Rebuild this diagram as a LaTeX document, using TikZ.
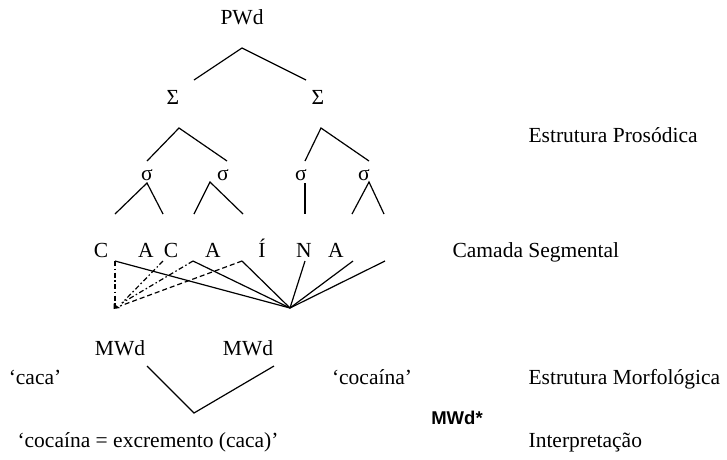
\documentclass[tikz,border=0pt]{standalone}
\usepackage{fontspec}
\setmainfont{Liberation Serif}
\newfontfamily\arialfont{Liberation Sans}
\begin{document}
\begin{tikzpicture}[x=1pt,y=-1pt,line width=1.2pt,
  lab/.style={inner sep=0pt,anchor=base,font=\fontsize{21.5}{24}\selectfont},
  side/.style={lab,anchor=base west},
  dashdot/.style={line width=1.2pt,dash pattern=on 5pt off 2.5pt on 1.5pt off 2.5pt},
  dashline/.style={line width=1.2pt,dash pattern=on 5pt off 3pt}]
\useasboundingbox (0,0) rectangle (727,459);
% prosodic tree
\node[lab] (pwd) at (242,24) {PWd};
\node[lab] (S1) at (173,104) {Σ};
\node[lab] (S2) at (318,104) {Σ};
\node[lab] (s1) at (147,180) {σ};
\node[lab] (s2) at (223,180) {σ};
\node[lab] (s3) at (301,180) {σ};
\node[lab] (s4) at (364,180) {σ};
\node[side] (ep) at (528,142) {Estrutura Prosódica};
% segments
\node[lab] (c1) at (101,257) {C};
\node[lab] (a1) at (146,257) {A};
\node[lab] (c2) at (171,257) {C};
\node[lab] (a2) at (213,257) {A};
\node[lab] (i1) at (262,257) {Í};
\node[lab] (n1) at (304,257) {N};
\node[lab] (a3) at (336,257) {A};
\node[side] (cs) at (452,257) {Camada Segmental};
% morphology
\node[lab] (m1) at (120,355) {MWd};
\node[lab] (m2) at (248,355) {MWd};
\node[lab] (caca) at (35,384) {‘caca’};
\node[lab] (coca) at (372,384) {‘cocaína’};
\node[side] (em) at (528,384) {Estrutura Morfológica};
\node[inner sep=0pt,anchor=base,font=\arialfont\bfseries\fontsize{18.5}{20}\selectfont] (mst) at (457,424) {MWd*};
\node[lab] (interp) at (148,447) {‘cocaína = excremento (caca)’};
\node[side] (it) at (528,447) {Interpretação};
% coordinates
\coordinate (pA) at (242,48); \coordinate (pL) at (194,80); \coordinate (pR) at (306,80);
\coordinate (S1A) at (179,128); \coordinate (S1L) at (147,161); \coordinate (S1R) at (227,161);
\coordinate (S2A) at (321,128); \coordinate (S2L) at (305,161); \coordinate (S2R) at (369,161);
\coordinate (s1A) at (147,183); \coordinate (s1L) at (115,214); \coordinate (s1R) at (163,214);
\coordinate (s2A) at (210,182); \coordinate (s2L) at (194,214); \coordinate (s2R) at (243,214);
\coordinate (s3A) at (305,183); \coordinate (s3B) at (305,214);
\coordinate (s4A) at (369,182); \coordinate (s4L) at (352,214); \coordinate (s4R) at (384,214);
\coordinate (P) at (290,308);
\coordinate (t1) at (115,261); \coordinate (t2) at (163,261); \coordinate (t3) at (193,261);
\coordinate (t4) at (242,261); \coordinate (t5) at (305,261); \coordinate (t6) at (353,261);
\coordinate (t7) at (385,261);
\coordinate (Q) at (115,307);
\coordinate (Q1) at (122,303); \coordinate (Q2) at (120,306);
\coordinate (vL) at (147,366); \coordinate (vB) at (194,413); \coordinate (vR) at (274,366);
% tree lines
\draw (pL) -- (pA) -- (pR);
\draw (S1L) -- (S1A) -- (S1R);
\draw (S2L) -- (S2A) -- (S2R);
\draw (s1L) -- (s1A) -- (s1R);
\draw (s2L) -- (s2A) -- (s2R);
\draw (s3A) -- (s3B);
\draw (s4L) -- (s4A) -- (s4R);
% association lines
\foreach \t in {t1,t3,t4,t5,t6,t7} \draw (\t) -- (P);
\draw[dashdot] (t1) -- (Q);
\draw[dashdot] (t2) -- (Q1);
\draw[dashdot] (t3) -- (Q1);
\draw[dashline] (t4) -- (Q2);
\fill (113.5,303.5) -- (113.5,309) -- (120,308) -- cycle;
% morphological V
\draw (vL) -- (vB) -- (vR);
\end{tikzpicture}
\end{document}
